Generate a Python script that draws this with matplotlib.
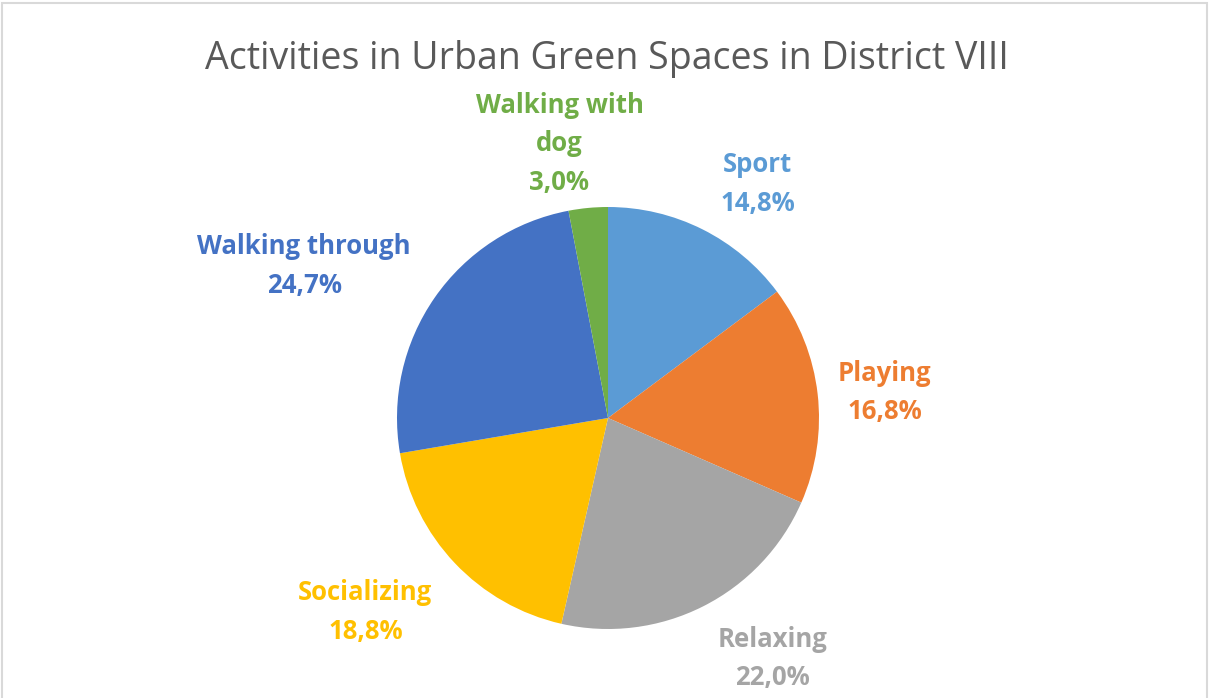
import matplotlib
matplotlib.use('Agg')
import matplotlib.pyplot as plt
from matplotlib.patches import Rectangle

# Share of observed activities (percent), clockwise from 12 o'clock
activities = ['Sport', 'Playing', 'Relaxing', 'Socializing',
              'Walking through', 'Walking with\ndog']
shares = [14.8, 16.8, 22.0, 18.8, 24.7, 3.0]
colors = ['#5B9BD5', '#ED7D31', '#A5A5A5', '#FFC000', '#4472C4', '#70AD47']

# label anchor points, in pie radius units
label_pos = [(0.71, 1.11), (1.31, 0.12), (0.78, -1.14),
             (-1.15, -0.92), (-1.44, 0.72), (-0.23, 1.30)]

plt.rcParams['font.family'] = ['Open Sans', 'DejaVu Sans']

fig = plt.figure(figsize=(12.12, 6.98), dpi=100)
fig.patch.set_facecolor('white')

# pie centre (608, 418) px, radius 211 px
W, H = 1212, 698
r = 211
ax = fig.add_axes([(608 - r) / W, (H - 418 - r) / H, 2 * r / W, 2 * r / H])
ax.pie(shares, colors=colors, startangle=90, counterclock=False,
       radius=1, wedgeprops=dict(linewidth=0))
ax.set_xlim(-1, 1)
ax.set_ylim(-1, 1)
ax.set_aspect('equal')
ax.axis('off')

for name, val, c, (x, y) in zip(activities, shares, colors, label_pos):
    txt = f"{name}\n{val:.1f}%".replace('.', ',')
    ax.text(x, y, txt, color=c, fontsize=18.5, fontweight='bold',
            ha='center', va='center', linespacing=1.55, clip_on=False)

fig.text(607 / W, 1 - 59 / H, 'Activities in Urban Green Spaces in District VIII',
         ha='center', va='center', fontsize=27, color='#595959')

# chart area frame
fig.patches.append(Rectangle((2 / W, -0.01), 1205 / W, 1 - 3 / H + 0.01,
                             transform=fig.transFigure, fill=False,
                             edgecolor='#D9D9D9', linewidth=1.5))

fig.savefig('out.png', dpi=100)
